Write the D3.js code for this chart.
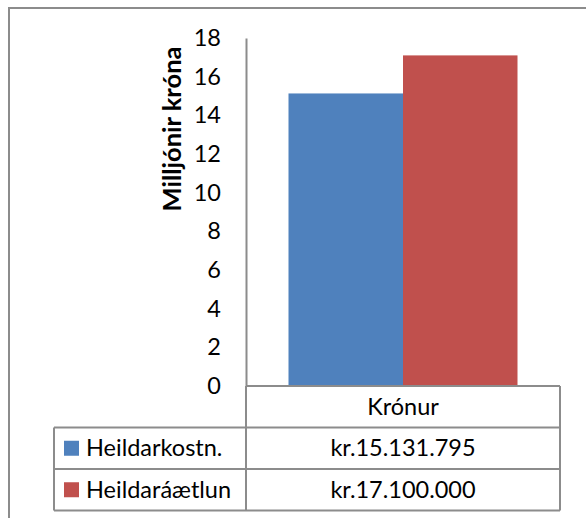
<!DOCTYPE html>
<html>
<head>
<meta charset="utf-8">
<script src="https://cdn.jsdelivr.net/npm/d3@7"></script>
<style>
  body { margin: 0; background: #fff; }
  svg { display: block; font-family: Lato, "Open Sans", sans-serif; }
</style>
</head>
<body>
<svg id="chart" width="586" height="518"></svg>
<script>
const categories = ["Krónur"];
const seriesNames = ["Heildarkostn.", "Heildaráætlun"];
const seriesValues = [15.131795, 17.1];
const seriesLabels = ["kr.15.131.795", "kr.17.100.000"];
const seriesColors = ["#4F81BD", "#C0504D"];
const yTicks = [0, 2, 4, 6, 8, 10, 12, 14, 16, 18];

const svg = d3.select("#chart");
const gray = "#8c8c8c";
const fontSize = "23.5px";
const plotLeft = 246, plotRight = 560, plotTop = 38, base = 386;
const rowH = 41.5;

// outer frame (runs off the page on right and bottom)
svg.append("path")
  .attr("d", "M9,600 V8 H600")
  .attr("fill", "none")
  .attr("stroke", gray)
  .attr("stroke-width", 2);

const y = d3.scaleLinear().domain([0, 18]).range([base, plotTop]);
const x0 = d3.scaleBand().domain(categories).range([plotLeft, plotRight]).paddingOuter(0.1856).paddingInner(0);
const x1 = d3.scaleBand().domain(seriesNames).range([0, x0.bandwidth()]);

// bars
svg.append("g").selectAll("rect")
  .data(seriesNames.map((n, i) => ({ name: n, value: seriesValues[i], color: seriesColors[i] })))
  .join("rect")
  .attr("x", d => x0(categories[0]) + x1(d.name))
  .attr("y", d => y(d.value))
  .attr("width", x1.bandwidth())
  .attr("height", d => base - y(d.value))
  .attr("fill", d => d.color);

// y axis
const yAxis = svg.append("g")
  .attr("transform", `translate(${plotLeft},0)`)
  .call(d3.axisLeft(y).tickValues(yTicks).tickSize(0).tickPadding(25));
yAxis.select(".domain").attr("stroke", gray).attr("stroke-width", 2);
yAxis.selectAll("text")
  .attr("fill", "#000")
  .style("font-size", fontSize)
  .style("font-family", "Lato, sans-serif");

svg.append("text")
  .attr("transform", `translate(181,129) rotate(-90)`)
  .attr("text-anchor", "middle")
  .style("font-size", "25.5px")
  .style("font-weight", "bold")
  .text("Milljónir króna");

// data table
const tbl = svg.append("g").attr("fill", "none").attr("stroke", gray).attr("stroke-width", 2);
const legLeft = 54;
tbl.append("line").attr("x1", plotLeft).attr("x2", plotRight).attr("y1", base).attr("y2", base);
tbl.append("line").attr("x1", plotRight).attr("x2", plotRight).attr("y1", base).attr("y2", base + 3 * rowH);
tbl.append("line").attr("x1", plotLeft).attr("x2", plotLeft).attr("y1", base).attr("y2", base + 3 * rowH);
tbl.append("line").attr("x1", legLeft).attr("x2", legLeft).attr("y1", base + rowH).attr("y2", base + 3 * rowH);
[1, 2, 3].forEach(k => {
  tbl.append("line").attr("x1", legLeft).attr("x2", plotRight)
    .attr("y1", base + k * rowH).attr("y2", base + k * rowH);
});

svg.append("text")
  .attr("x", (plotLeft + plotRight) / 2)
  .attr("y", base + rowH / 2)
  .attr("dy", "0.35em")
  .attr("text-anchor", "middle")
  .style("font-size", fontSize)
  .text(categories[0]);

seriesNames.forEach((n, i) => {
  const cy = base + rowH * (i + 1.5);
  svg.append("rect")
    .attr("x", 64).attr("y", cy - 7.5)
    .attr("width", 15).attr("height", 15)
    .attr("fill", seriesColors[i]);
  svg.append("text")
    .attr("x", 86).attr("y", cy).attr("dy", "0.35em")
    .style("font-size", fontSize)
    .text(n);
  svg.append("text")
    .attr("x", (plotLeft + plotRight) / 2).attr("y", cy).attr("dy", "0.35em")
    .attr("text-anchor", "middle")
    .style("font-size", fontSize)
    .text(seriesLabels[i]);
});
</script>
</body>
</html>
